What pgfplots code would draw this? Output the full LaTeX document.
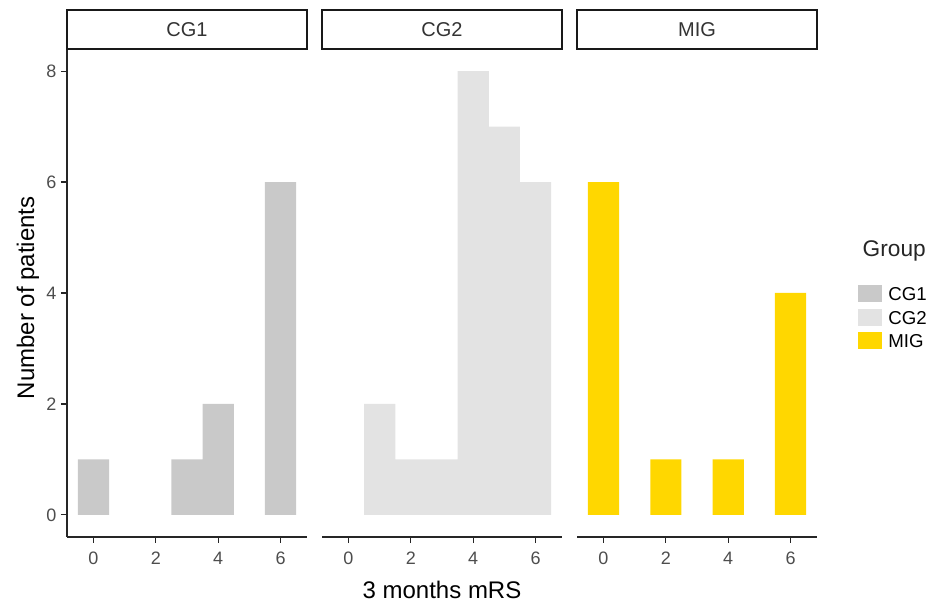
\documentclass[border=0pt]{standalone}
\usepackage{fontspec}
\setmainfont{Liberation Sans}
\usepackage{pgfplots}
\pgfplotsset{compat=1.18}

\definecolor{cgone}{HTML}{C9C9C9}
\definecolor{cgtwo}{HTML}{E3E3E3}
\definecolor{mig}{HTML}{FFD700}
\definecolor{ticktxt}{HTML}{4D4D4D}

% one facet panel, 240x488 px at 0.75pt per px
\pgfplotsset{
  facet/.style={
    scale only axis, width=180pt, height=366pt,
    anchor=south west, clip=false,
    xmin=-0.85, xmax=6.85, ymin=-0.4, ymax=8.4,
    xtick={0,2,4,6}, ytick={0,2,4,6,8},
    tick align=outside, major tick length=4.5pt,
    tick style={line width=0.9pt, black!85},
    axis line style={line width=1.2pt, black!85},
    ticklabel style={font=\fontsize{13.5}{15}\selectfont, text=ticktxt},
    xticklabel style={yshift=-3.5pt},
    /pgf/number format/assume math mode=true,
    axis x line*=bottom,
  },
  strip/.style={
    execute at end axis={
      \draw[line width=1.3pt, black!90] (rel axis cs:0,1) rectangle (rel axis cs:1,1.08);
      \node[font=\fontsize{15}{15}\selectfont, text=black!80] at (rel axis cs:0.5,1.04) {#1};
    },
  },
}
\newcommand{\key}[1]{\hspace{4.5pt}\raisebox{4.5pt}{#1}}

\begin{document}
\begin{tikzpicture}
\useasboundingbox (0,0) rectangle (704.25pt,452.25pt);

% CG1
\begin{axis}[facet, strip=CG1, at={(50.25pt,49.5pt)},
    axis y line*=left,
    ylabel={Number of patients},
    ylabel style={at={(axis description cs:-0.1625,0.49)}, anchor=center,
      font=\fontsize{18}{18}\selectfont}]
  \addplot[ybar, bar width=1, fill=cgone, draw=none] coordinates {
    (0,1) (3,1) (4,2) (6,6)
  };
\end{axis}

% CG2
\begin{axis}[facet, strip=CG2, at={(241.5pt,49.5pt)},
    axis y line=none,
    xlabel={3 months mRS},
    xlabel style={at={(axis description cs:0.5,-0.109)}, anchor=center,
      font=\fontsize{18}{18}\selectfont}]
  \addplot[ybar, bar width=1, fill=cgtwo, draw=none] coordinates {
    (1,2) (2,1) (3,1) (4,8) (5,7) (6,6)
  };
\end{axis}

% MIG + legend
\begin{axis}[facet, strip=MIG, at={(432.75pt,49.5pt)},
    axis y line=none,
    legend image code/.code={\fill[#1, draw=none] (0pt,-1.5pt) rectangle (18pt,11.25pt);},
    legend style={at={(axis description cs:1.171,0.516)}, anchor=north west,
      draw=none, fill=none, inner sep=0pt, row sep=0pt,
      font=\fontsize{14}{14}\selectfont,
      nodes={inner sep=0pt, text height=11.25pt, text depth=1.5pt}},
    legend cell align=left]
  \addlegendimage{fill=cgone}
  \addlegendentry{\key{CG1}}
  \addlegendimage{fill=cgtwo}
  \addlegendentry{\key{CG2}}
  \addplot[ybar, bar width=1, fill=mig, draw=none, forget plot] coordinates {
    (0,6) (2,1) (4,1) (6,4)
  };
  \addlegendimage{fill=mig}
  \addlegendentry{\key{MIG}}
\end{axis}

\node[anchor=base west, font=\fontsize{17}{17}\selectfont, text=black!85]
  at (643.5pt,259.5pt) {Group};
\end{tikzpicture}
\end{document}
